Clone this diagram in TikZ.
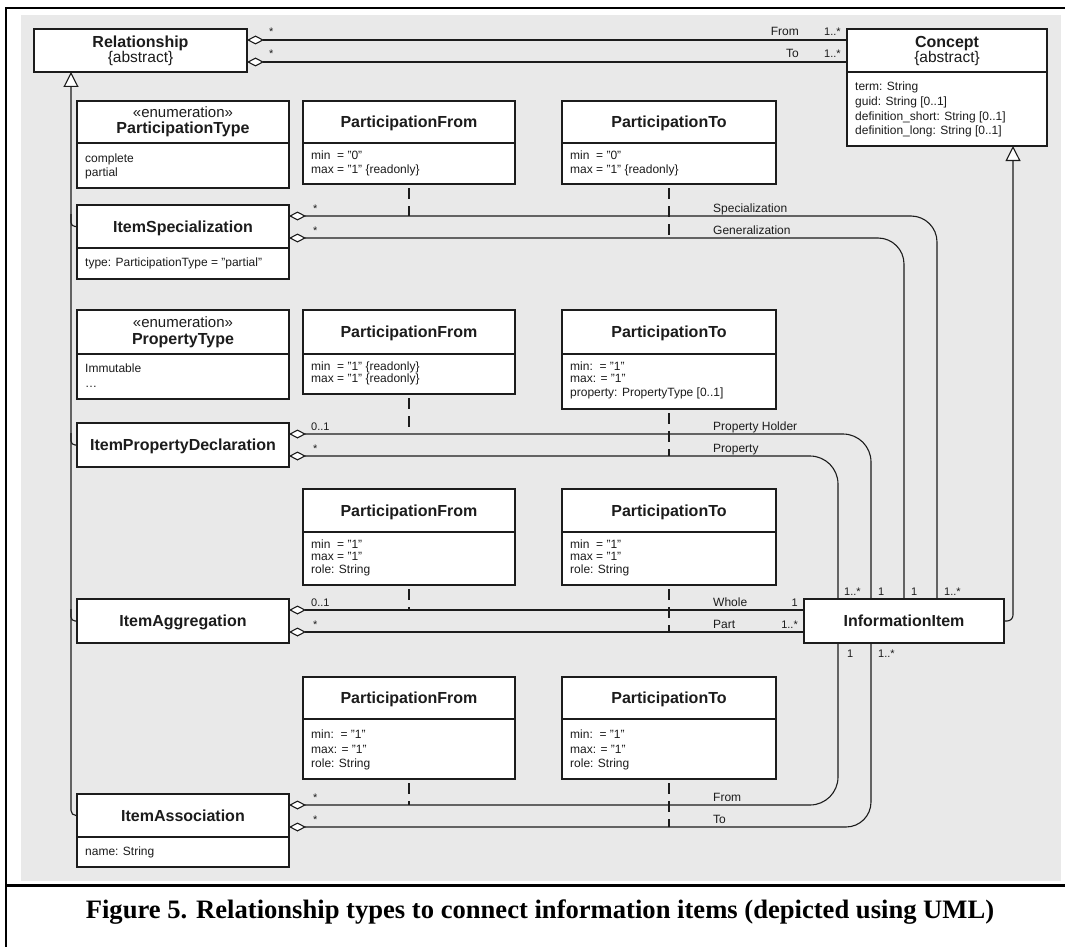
\documentclass[tikz,border=0pt]{standalone}
\usepackage{fontspec}
\setmainfont{Liberation Serif}
\setsansfont{Liberation Sans}
\usetikzlibrary{arrows.meta,calc}
\definecolor{bggray}{RGB}{233,233,233}
\definecolor{ink}{RGB}{28,28,28}
\newcommand\clsbox[5]{\node[umlbox, minimum width=#4pt, minimum height=#5pt] (#1) at (#2,#3) {};}
\newcommand\cdiv[2]{\draw[boxline] ($(#1.north west)+(0,#2)$) -- ($(#1.north east)+(0,#2)$);}
\begin{document}
\begin{tikzpicture}[x=1pt,y=-1pt,
  umlbox/.style={draw=ink, line width=1.3pt, fill=white, inner sep=0pt, outer sep=0pt, anchor=north west},
  boxline/.style={draw=ink, line width=1.3pt},
  hdr/.style={font=\sffamily\bfseries\fontsize{16}{19}\selectfont, anchor=base, inner sep=0pt, text=ink},
  ster/.style={font=\sffamily\fontsize{15.5}{18}\selectfont, anchor=base, inner sep=0pt, text=ink},
  attr/.style={font=\sffamily\fontsize{12}{14}\selectfont, anchor=base west, inner sep=0pt, text=ink},
  rlab/.style={font=\sffamily\fontsize{12}{14}\selectfont, anchor=base west, inner sep=0pt, text=ink},
  mlab/.style={font=\sffamily\fontsize{11}{13}\selectfont, anchor=base west, inner sep=0pt, text=ink},
  conn/.style={draw=ink, line width=1.1pt},
  agg/.style={conn, {Diamond[fill=white, length=17pt, width=9pt]}-},
  gen/.style={conn, -{Triangle[fill=white, length=15pt, width=15pt]}},
  dep/.style={conn, dash pattern=on 11pt off 7pt, dash phase=14pt}
]
\useasboundingbox (0,0) rectangle (1065,947);
\fill[bggray] (20.5,15) rectangle (1061,881);
\draw[line width=2.7pt] (6,947) -- (6,8) -- (1066,8);
\draw[line width=3pt] (6,885.7) -- (1066,885.7);

% ---------- boxes ----------
\clsbox{rel}{34}{29}{213}{43}
\clsbox{concept}{847}{29}{200}{117}
\clsbox{ptype}{77}{101}{212}{87}
\clsbox{pfa}{303}{101}{212}{83}
\clsbox{pta}{562}{101}{214}{83}
\clsbox{ispec}{77}{205}{212}{74}
\clsbox{proptype}{77}{310}{212}{89}
\clsbox{pfb}{303}{310}{212}{84}
\clsbox{ptb}{562}{310}{214}{99}
\clsbox{ipd}{77}{423}{212}{44}
\clsbox{pfc}{303}{489}{212}{96}
\clsbox{ptc}{562}{489}{214}{96}
\clsbox{iagg}{77}{599}{212}{44}
\clsbox{ii}{804}{599}{200}{44}
\clsbox{pfd}{303}{677}{212}{102}
\clsbox{ptd}{562}{677}{214}{102}
\clsbox{iassoc}{77}{794}{212}{73}

\cdiv{concept}{43}
\cdiv{ptype}{42}
\cdiv{pfa}{42}
\cdiv{pta}{42}
\cdiv{ispec}{43}
\cdiv{proptype}{44}
\cdiv{pfb}{44}
\cdiv{ptb}{44}
\cdiv{pfc}{43}
\cdiv{ptc}{43}
\cdiv{pfd}{42}
\cdiv{ptd}{42}
\cdiv{iassoc}{43}

% ---------- box texts ----------
\node[hdr] (relN) at (140.5,47.7) {Relationship};
\node[ster] (relS) at (140.5,63) {\{abstract\}};

\node[hdr] (conN) at (947,47.7) {Concept};
\node[ster] (conS) at (947,63) {\{abstract\}};
\node[attr] (conA1) at (855,91) {term: String};
\node[attr] (conA2) at (855,105.5) {guid: String [0..1]};
\node[attr] (conA3) at (855,120.5) {definition\_short: String [0..1]};
\node[attr] (conA4) at (855,134.5) {definition\_long: String [0..1]};

\node[ster, font=\sffamily\fontsize{15}{18}\selectfont] (ptS) at (183,118) {«enumeration»};
\node[hdr] (ptN) at (183,133) {ParticipationType};
\node[attr] (ptA1) at (85,162.3) {complete};
\node[attr] (ptA2) at (85,176.7) {partial};

\node[hdr] (pfaN) at (409,127.7) {ParticipationFrom};
\node[attr] (pfaA1) at (311,160) {min\ \ = "0"};
\node[attr] (pfaA2) at (311,173) {max = "1" \{readonly\}};

\node[hdr] (ptaN) at (669,127.7) {ParticipationTo};
\node[attr] (ptaA1) at (570,160) {min\ \ = "0"};
\node[attr] (ptaA2) at (570,173) {max = "1" \{readonly\}};

\node[hdr] (ispecN) at (183,232.2) {ItemSpecialization};
\node[attr] (ispecA) at (85,266.7) {type: ParticipationType = "partial"};

\node[ster, font=\sffamily\fontsize{15}{18}\selectfont] (prS) at (183,327.3) {«enumeration»};
\node[hdr] (prN) at (183,344) {PropertyType};
\node[attr] (prA1) at (85,372.3) {Immutable};
\node[attr] (prA2) at (85,387.7) {…};

\node[hdr] (pfbN) at (409,337.7) {ParticipationFrom};
\node[attr] (pfbA1) at (311,370) {min\ \ = "1" \{readonly\}};
\node[attr] (pfbA2) at (311,382.5) {max = "1" \{readonly\}};

\node[hdr] (ptbN) at (669,337.7) {ParticipationTo};
\node[attr] (ptbA1) at (570,370) {min:\ \ = "1"};
\node[attr] (ptbA2) at (570,382.5) {max: = "1"};
\node[attr] (ptbA3) at (570,396.7) {property: PropertyType [0..1]};

\node[hdr] (ipdN) at (183,450.7) {ItemPropertyDeclaration};

\node[hdr] (pfcN) at (409,516.2) {ParticipationFrom};
\node[attr] (pfcA1) at (311,548.3) {min\ \ = "1"};
\node[attr] (pfcA2) at (311,560.7) {max = "1"};
\node[attr] (pfcA3) at (311,573.3) {role: String};

\node[hdr] (ptcN) at (669,516.2) {ParticipationTo};
\node[attr] (ptcA1) at (570,548.3) {min\ \ = "1"};
\node[attr] (ptcA2) at (570,560.7) {max = "1"};
\node[attr] (ptcA3) at (570,573.3) {role: String};

\node[hdr] (iaggN) at (183,626.7) {ItemAggregation};
\node[hdr] (iiN) at (904,626.7) {InformationItem};

\node[hdr] (pfdN) at (409,703.7) {ParticipationFrom};
\node[attr] (pfdA1) at (311,738.3) {min:\ \ = "1"};
\node[attr] (pfdA2) at (311,753.3) {max: = "1"};
\node[attr] (pfdA3) at (311,767.7) {role: String};

\node[hdr] (ptdN) at (669,703.7) {ParticipationTo};
\node[attr] (ptdA1) at (570,738.3) {min:\ \ = "1"};
\node[attr] (ptdA2) at (570,753.3) {max: = "1"};
\node[attr] (ptdA3) at (570,767.7) {role: String};

\node[hdr] (iassocN) at (183,821.2) {ItemAssociation};
\node[attr] (iassocA) at (85,855.7) {name: String};

% ---------- connector anchor points ----------
\coordinate (relFrom) at ($(rel.north east)+(0,11)$);
\coordinate (relTo) at ($(rel.north east)+(0,33)$);
\coordinate (specA) at ($(ispec.north east)+(0,11)$);
\coordinate (genA) at ($(ispec.north east)+(0,33)$);
\coordinate (phA) at ($(ipd.north east)+(0,11)$);
\coordinate (propA) at ($(ipd.north east)+(0,33)$);
\coordinate (wholeA) at ($(iagg.north east)+(0,11)$);
\coordinate (partA) at ($(iagg.north east)+(0,33)$);
\coordinate (fromA) at ($(iassoc.north east)+(0,11)$);
\coordinate (toA) at ($(iassoc.north east)+(0,33)$);

% ---------- associations ----------
\draw[agg] (relFrom) -- ($(concept.north west)+(0,11)$);
\draw[agg] (relTo) -- ($(concept.north west)+(0,33)$);
\draw[agg, rounded corners=26pt] (specA) -| ($(ii.north west)+(133,0)$);
\draw[agg, rounded corners=26pt] (genA) -| ($(ii.north west)+(100,0)$);
\draw[agg, rounded corners=28pt] (phA) -| ($(ii.north west)+(67,0)$);
\draw[agg, rounded corners=28pt] (propA) -| ($(ii.north west)+(34,0)$);
\draw[agg] (wholeA) -- ($(ii.north west)+(0,11)$);
\draw[agg] (partA) -- ($(ii.north west)+(0,33)$);
\draw[agg, rounded corners=28pt] (fromA) -| ($(ii.south west)+(34,0)$);
\draw[agg, rounded corners=25pt] (toA) -| ($(ii.south west)+(67,0)$);

% ---------- association classes (dashed) ----------
\draw[dep] (pfa.south) -- (pfa.south |- specA);
\draw[dep] (pta.south) -- (pta.south |- genA);
\draw[dep] (pfb.south) -- (pfb.south |- phA);
\draw[dep] (ptb.south) -- (ptb.south |- propA);
\draw[dep] (pfc.south) -- (pfc.south |- wholeA);
\draw[dep] (ptc.south) -- (ptc.south |- partA);
\draw[dep] (pfd.south) -- (pfd.south |- fromA);
\draw[dep] (ptd.south) -- (ptd.south |- toA);

% ---------- generalizations ----------
\coordinate (gx) at ($(rel.south west)+(37,0)$);
\draw[gen, rounded corners=5pt] ($(iassoc.north west)+(0,21.5)$) -| (gx);
\draw[conn, rounded corners=4pt] ($(ispec.north west)+(-6,9)$) |- ($(ispec.north west)+(0,21.5)$);
\draw[conn, rounded corners=4pt] ($(ipd.north west)+(-6,10)$) |- ($(ipd.north west)+(0,22)$);
\draw[conn, rounded corners=4pt] ($(iagg.north west)+(-6,10)$) |- ($(iagg.north west)+(0,22)$);
\draw[gen, rounded corners=6pt] (ii.east) -| ($(concept.south east)+(-34,0)$);

% ---------- labels ----------
\node[mlab] (mRelF) at (269,36) {*};
\node[rlab, anchor=base east] (rRelF) at (799,36) {From};
\node[mlab] (mConF) at (824,36) {1..*};
\node[mlab] (mRelT) at (269,58) {*};
\node[rlab, anchor=base east] (rRelT) at (799,58) {To};
\node[mlab] (mConT) at (824,58) {1..*};

\node[mlab] (mSp) at (313,212) {*};
\node[rlab] (rSp) at (713,212) {Specialization};
\node[mlab] (mSpI) at (944,595) {1..*};
\node[mlab] (mGe) at (313,234) {*};
\node[rlab] (rGe) at (713,234) {Generalization};
\node[mlab] (mGeI) at (911,595) {1};

\node[mlab] (mPh) at (311,430) {0..1};
\node[rlab] (rPh) at (713,430) {Property Holder};
\node[mlab] (mPhI) at (878,595) {1};
\node[mlab] (mPr) at (313,452) {*};
\node[rlab] (rPr) at (713,452) {Property};
\node[mlab] (mPrI) at (844,595) {1..*};

\node[mlab] (mWh) at (311,606) {0..1};
\node[rlab] (rWh) at (713,606) {Whole};
\node[mlab, anchor=base east] (mWhI) at (798,606) {1};
\node[mlab] (mPa) at (313,628) {*};
\node[rlab] (rPa) at (713,628) {Part};
\node[mlab, anchor=base east] (mPaI) at (798,628) {1..*};

\node[mlab] (mFr) at (313,801) {*};
\node[rlab] (rFr) at (713,801) {From};
\node[mlab] (mFrI) at (847,657) {1};
\node[mlab] (mTo) at (313,823) {*};
\node[rlab] (rTo) at (713,823) {To};
\node[mlab] (mToI) at (878,657) {1..*};

% ---------- caption ----------
\node[font=\rmfamily\bfseries\fontsize{26.6}{30}\selectfont, anchor=base, inner sep=0pt] (cap) at (540,918) {Figure 5. Relationship types to connect information items (depicted using UML)};
\end{tikzpicture}
\end{document}
